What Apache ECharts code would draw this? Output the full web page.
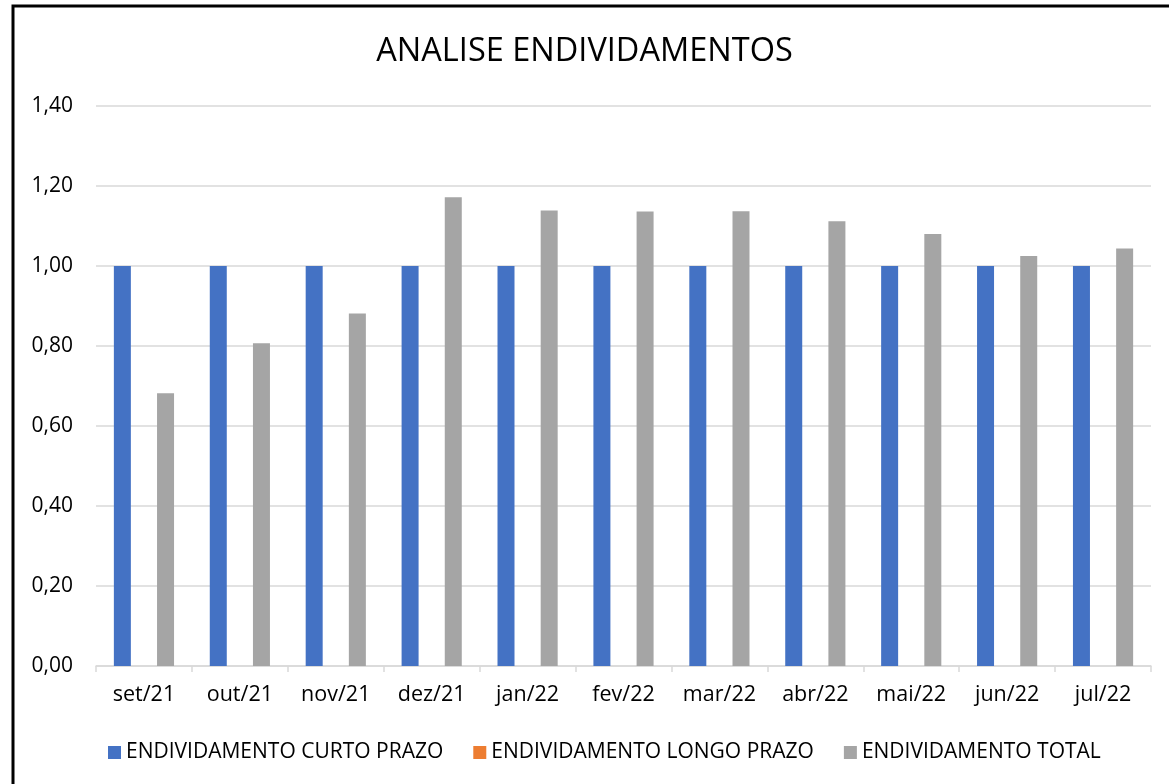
<!DOCTYPE html>
<html>
<head>
<meta charset="utf-8">
<script src="https://cdn.jsdelivr.net/npm/echarts@6/dist/echarts.min.js"></script>
<style>
  html, body { margin: 0; padding: 0; background: #fff; }
  #main { width: 1169px; height: 784px; }
</style>
</head>
<body>
<div id="main"></div>
<script>
// meses
var months = ['set/21', 'out/21', 'nov/21', 'dez/21', 'jan/22', 'fev/22', 'mar/22', 'abr/22', 'mai/22', 'jun/22', 'jul/22'];
// indices
var curtoPrazo = [1, 1, 1, 1, 1, 1, 1, 1, 1, 1, 1];
var longoPrazo = [0, 0, 0, 0, 0, 0, 0, 0, 0, 0, 0];
var total = [0.682, 0.807, 0.881, 1.172, 1.139, 1.136, 1.137, 1.112, 1.080, 1.025, 1.044];

var font = '"Open Sans", "Noto Sans", sans-serif';

var chart = echarts.init(document.getElementById('main'));

var option = {
  animation: false,
  textStyle: { fontFamily: font },
  title: {
    text: 'ANALISE ENDIVIDAMENTOS',
    left: 'center',
    top: 30,
    textStyle: { fontFamily: font, fontSize: 32.5, fontWeight: 'normal', color: '#000' }
  },
  graphic: [{
    type: 'rect',
    shape: { x: 13, y: 6, width: 1200, height: 820 },
    style: { fill: 'none', stroke: '#000', lineWidth: 3 },
    silent: true
  }],
  legend: {
    bottom: 16,
    left: 103,
    itemWidth: 13,
    itemHeight: 13,
    itemGap: 30,
    icon: 'rect',
    textStyle: { fontFamily: font, fontSize: 21, color: '#000' },
    data: ['ENDIVIDAMENTO CURTO PRAZO', 'ENDIVIDAMENTO LONGO PRAZO', 'ENDIVIDAMENTO TOTAL']
  },
  grid: { left: 96, right: 18, top: 106, bottom: 118 },
  xAxis: {
    type: 'category',
    data: months,
    axisLine: { lineStyle: { color: '#d9d9d9', width: 1.5 } },
    axisTick: { show: true, length: 6, lineStyle: { color: '#d9d9d9', width: 1.5 } },
    axisLabel: { color: '#000', fontSize: 21.5, margin: 18, fontFamily: font }
  },
  yAxis: {
    type: 'value',
    min: 0,
    max: 1.4,
    interval: 0.2,
    axisLine: { show: false },
    axisTick: { show: false },
    splitLine: { lineStyle: { color: '#d9d9d9', width: 1.5 } },
    axisLabel: {
      color: '#000',
      fontSize: 21,
      margin: 23,
      fontFamily: font,
      formatter: function (v) { return v.toFixed(2).replace('.', ','); }
    }
  },
  series: [
    { name: 'ENDIVIDAMENTO CURTO PRAZO', type: 'bar', data: curtoPrazo, barWidth: 17, barGap: '27%', itemStyle: { color: '#4472C4' } },
    { name: 'ENDIVIDAMENTO LONGO PRAZO', type: 'bar', data: longoPrazo, barWidth: 17, barGap: '27%', itemStyle: { color: '#ED7D31' } },
    { name: 'ENDIVIDAMENTO TOTAL', type: 'bar', data: total, barWidth: 17, barGap: '27%', itemStyle: { color: '#A5A5A5' } }
  ]
};

chart.setOption(option);
</script>
</body>
</html>
